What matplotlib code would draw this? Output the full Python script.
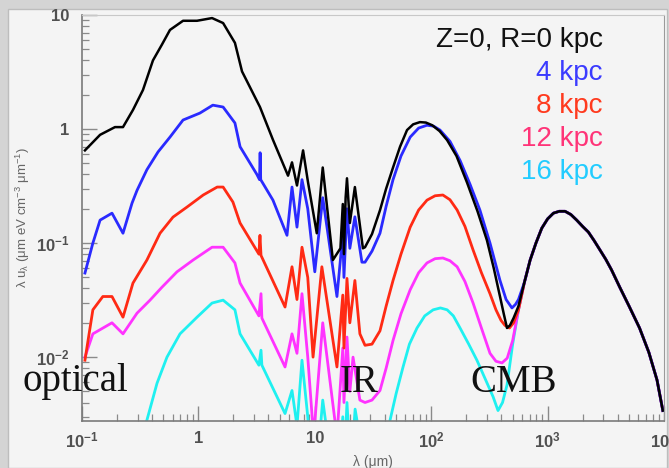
# ISRF spectra at several galactocentric radii, redrawn from a ROOT-style figure
import numpy as np
import matplotlib
matplotlib.use("Agg")
import matplotlib.pyplot as plt
from matplotlib.patches import Rectangle
from matplotlib.ticker import FixedLocator, FixedFormatter, LogLocator, NullFormatter

plt.rcParams['font.family'] = ['Liberation Sans', 'DejaVu Sans']
plt.rcParams['mathtext.default'] = 'regular'

# wavelength in um, lambda*u_lambda in eV cm^-3
lam_r0 = [0.106, 0.143, 0.192, 0.225, 0.274, 0.334, 0.407, 0.486, 0.570, 0.738, 0.973,
          1.31, 1.63, 2.06, 2.37, 3.38, 4.38, 5.89, 6.37, 7.03, 7.93, 8.75, 10.4, 11.7,
          14.3, 16.6, 17.4, 17.8, 18.4, 18.9, 20.0, 22.1, 25.9, 27.0, 31.0, 36.3, 41.0,
          47.0, 54.0, 62.0, 70.0, 80.0, 90.0, 102, 118, 137, 165, 203, 250, 301, 345,
          390, 420, 448, 475, 510, 562]
u_r0 = [0.65, 0.89, 1.04, 1.04, 1.47, 2.2, 4.0, 5.5, 7.4, 8.9, 8.9,
        9.4, 8.5, 5.7, 3.2, 1.56, 0.80, 0.39, 0.51, 0.32, 0.65, 0.34, 0.122, 0.46,
        0.071, 0.09, 0.22, 0.08, 0.25, 0.37, 0.15, 0.31, 0.09, 0.092, 0.12, 0.194, 0.30,
        0.46, 0.70, 0.98, 1.10, 1.15, 1.14, 1.08, 0.96, 0.80, 0.58, 0.34, 0.19, 0.106, 0.06,
        0.034, 0.024, 0.018, 0.019, 0.022, 0.028]

lam_r4 = [0.106, 0.124, 0.143, 0.181, 0.225, 0.269, 0.297, 0.361, 0.450, 0.570, 0.738,
          1.03, 1.33, 1.63, 2.06, 2.28, 3.18, 3.35, 3.39, 3.43, 4.37, 5.77, 6.37, 7.03,
          7.76, 8.7, 10.0, 11.7, 15.5, 17.4, 17.8, 18.9, 20.0, 22.1, 25.4, 27.0, 31.0,
          36.3, 41.0, 47.0, 55.0, 66.0, 78.0, 92.0, 105, 119, 145, 177, 215, 262, 320,
          390, 440, 494, 530, 562]
u_r4 = [0.0546, 0.10, 0.159, 0.183, 0.122, 0.224, 0.29, 0.44, 0.63, 0.85, 1.2,
        1.38, 1.62, 1.56, 1.13, 0.70, 0.40, 0.36, 0.62, 0.36, 0.238, 0.117, 0.31, 0.138,
        0.36, 0.2, 0.056, 0.25, 0.034, 0.12, 0.05, 0.2, 0.09, 0.17, 0.068, 0.068, 0.085,
        0.122, 0.21, 0.36, 0.58, 0.85, 1.02, 1.08, 1.06, 0.98, 0.78, 0.53, 0.33, 0.195, 0.10,
        0.047, 0.032, 0.027, 0.029, 0.032]

lam_r8 = [0.106, 0.124, 0.151, 0.181, 0.225, 0.274, 0.361, 0.468, 0.605, 0.798, 1.10,
          1.45, 1.63, 1.98, 2.28, 3.31, 3.38, 3.45, 5.55, 6.37, 7.03, 7.76, 8.7, 9.66,
          11.5, 15.5, 17.4, 17.8, 18.9, 20.0, 22.1, 24.4, 27.0, 31.0, 36.3, 41.0, 47.0,
          55.0, 66.0, 78.0, 92.0, 108, 126, 145, 167, 195, 229, 270, 320, 360, 398,
          430, 470, 510, 562]
u_r8 = [0.0094, 0.026, 0.034, 0.034, 0.0224, 0.0446, 0.071, 0.122, 0.169, 0.207, 0.264,
        0.31, 0.31, 0.229, 0.15, 0.08, 0.117, 0.078, 0.0275, 0.062, 0.032, 0.092, 0.05, 0.01,
        0.062, 0.0082, 0.035, 0.012, 0.049, 0.02, 0.047, 0.016, 0.0127, 0.013, 0.017, 0.028, 0.047,
        0.08, 0.138, 0.195, 0.238, 0.26, 0.264, 0.24, 0.195, 0.14, 0.087, 0.055, 0.036, 0.026, 0.021,
        0.019, 0.018, 0.020, 0.026]

lam_r12 = [0.106, 0.124, 0.181, 0.225, 0.297, 0.384, 0.486, 0.655, 0.90, 1.31, 1.63,
           2.06, 2.28, 3.31, 3.45, 3.51, 5.55, 6.37, 7.03, 7.76, 8.7, 9.77, 11.7, 15.5,
           17.4, 17.8, 18.9, 20.0, 21.3, 24.4, 27.0, 31.0, 36.3, 41.0, 47.0, 55.0, 66.0,
           78.0, 92.0, 108, 126, 145, 167, 195, 229, 270, 320, 360, 406, 450, 501, 562]
u_r12 = [0.010, 0.016, 0.020, 0.016, 0.0243, 0.0316, 0.041, 0.056, 0.071, 0.092, 0.092,
         0.067, 0.0446, 0.023, 0.036, 0.022, 0.0082, 0.016, 0.0108, 0.036, 0.01, 0.002, 0.02, 0.002,
         0.012, 0.004, 0.015, 0.005, 0.01, 0.0042, 0.004, 0.0042, 0.0051, 0.008, 0.014, 0.024, 0.039,
         0.055, 0.067, 0.073, 0.074, 0.07, 0.062, 0.046, 0.0298, 0.018, 0.0108, 0.0092, 0.0089, 0.0098,
         0.014, 0.026]

lam_r16 = [0.316, 0.361, 0.441, 0.537, 0.695, 0.973, 1.31, 1.63, 2.06, 2.28, 3.31,
           3.45, 3.51, 5.55, 6.37, 7.03, 7.76, 8.7, 9.77, 11.7, 15.5, 17.4, 17.8, 18.9,
           20.4, 22.2, 28.2, 39.8, 44.3, 50.0, 57.3, 65.0, 75.5, 88.0, 104, 120, 137,
           155, 177, 210, 247, 290, 340, 375, 410, 448, 501, 562]
u_r16 = [0.002, 0.0028, 0.0059, 0.01, 0.016, 0.0224, 0.0298, 0.0316, 0.026, 0.016, 0.0085,
         0.0115, 0.0085, 0.0032, 0.0051, 0.0025, 0.0094, 0.003, 0.0005, 0.0042, 0.0005, 0.003, 0.001, 0.004,
         0.001, 0.0035, 0.0008, 0.0012, 0.0028, 0.0048, 0.0082, 0.013, 0.018, 0.023, 0.026, 0.027, 0.026,
         0.023, 0.018, 0.013, 0.0094, 0.0065, 0.0045, 0.0034, 0.0040, 0.0057, 0.013, 0.026]

# CMB tail, common to all radii
lam_cmb = [631, 708, 794, 891, 1000, 1122, 1259, 1413, 1585, 1778, 2000, 2239, 2512,
           2818, 3162, 3548, 4169, 5012, 6166, 7413, 8710, 9772]
u_cmb = [0.045, 0.071, 0.10, 0.135, 0.163, 0.183, 0.19, 0.19, 0.178, 0.159, 0.14, 0.125, 0.105,
         0.087, 0.072, 0.058, 0.041, 0.028, 0.018, 0.011, 0.0063, 0.0034]

labels = ["Z=0, R=0 kpc", "4 kpc", "8 kpc", "12 kpc", "16 kpc"]
line_colors = ["black", "#2a2aff", "#ff2a14", "#ff33ff", "#1ff0f0"]
text_colors = ["#111111", "#3b3bff", "#ff3a1e", "#ff3478", "#22ccff"]

fig = plt.figure(figsize=(6.69, 4.68), dpi=100, facecolor="#d4d4d4")
fig.patches.append(Rectangle((8 / 669, 0), 659 / 669, 1 - 9 / 468, transform=fig.transFigure,
                             facecolor="#f4f4f4", edgecolor="#bdbdbd", lw=1.0, zorder=-10))

ax = fig.add_axes([82 / 669, 47 / 468, 582 / 669, 406 / 468])
ax.set_facecolor("#f4f4f4")

curves = [(lam_r16, u_r16), (lam_r12, u_r12), (lam_r8, u_r8), (lam_r4, u_r4), (lam_r0, u_r0)]
cols = line_colors[::-1]
for (lam, u), c in zip(curves, cols):
    ax.plot(lam + lam_cmb, u + u_cmb, color=c, lw=2.0 if c != "black" else 1.8,
            solid_joinstyle="round")

ax.set_xscale("log")
ax.set_yscale("log")
ax.set_xlim(0.1, 1e4)
ax.set_ylim(10 ** -2.56, 10)

ax.xaxis.set_major_locator(FixedLocator([0.1, 1, 10, 100, 1000, 10000]))
ax.xaxis.set_major_formatter(FixedFormatter(["$10^{-1}$", "1", "10", "$10^{2}$", "$10^{3}$", "$10^{4}$"]))
ax.yaxis.set_major_locator(FixedLocator([0.01, 0.1, 1, 10]))
ax.yaxis.set_major_formatter(FixedFormatter(["$10^{-2}$", "$10^{-1}$", "1", "10"]))
for a in (ax.xaxis, ax.yaxis):
    a.set_minor_locator(LogLocator(base=10, subs=np.arange(2, 10), numticks=20))
    a.set_minor_formatter(NullFormatter())

ax.tick_params(which="both", direction="in", top=False, right=False, color="#8a8a8a",
               labelcolor="#505050", labelsize=12)
ax.tick_params(which="major", length=11, width=1.0)
ax.tick_params(which="minor", length=5, width=0.9)
ax.tick_params(axis="y", pad=9)
ax.tick_params(axis="x", pad=7)
for lbl in ax.get_xticklabels() + ax.get_yticklabels():
    lbl.set_fontweight("bold")

for side in ("left", "bottom"):
    ax.spines[side].set_color("#7a7a7a")
    ax.spines[side].set_linewidth(1.2)
ax.spines["top"].set_color("#c8c8c8")
ax.spines["right"].set_color("#9a9a9a")

ax.set_xlabel("λ (μm)", fontsize=10, color="#666666", labelpad=3)
ax.set_ylabel("λ u$_{λ}$ (μm eV cm$^{-3}$ μm$^{-1}$)", fontsize=9.5, color="#666666", labelpad=3)

# curve labels, right aligned in the upper right
for i, (txt, tc) in enumerate(zip(labels, text_colors)):
    fig.text(603 / 669, 1 - (40 + 33 * i) / 468, txt, color=tc, fontsize=20,
             ha="right", va="center")

# region labels
serif = ["Liberation Serif", "DejaVu Serif"]
fig.text(22 / 669, 1 - 382 / 468, "optical", fontsize=28, family=serif, color="#111111", va="center")
fig.text(340 / 669, 1 - 382 / 468, "IR", fontsize=28, family=serif, color="#111111", va="center")
fig.text(470 / 669, 1 - 382 / 468, "CMB", fontsize=28, family=serif, color="#111111", va="center")

fig.savefig("out.png", dpi=100, facecolor=fig.get_facecolor())
